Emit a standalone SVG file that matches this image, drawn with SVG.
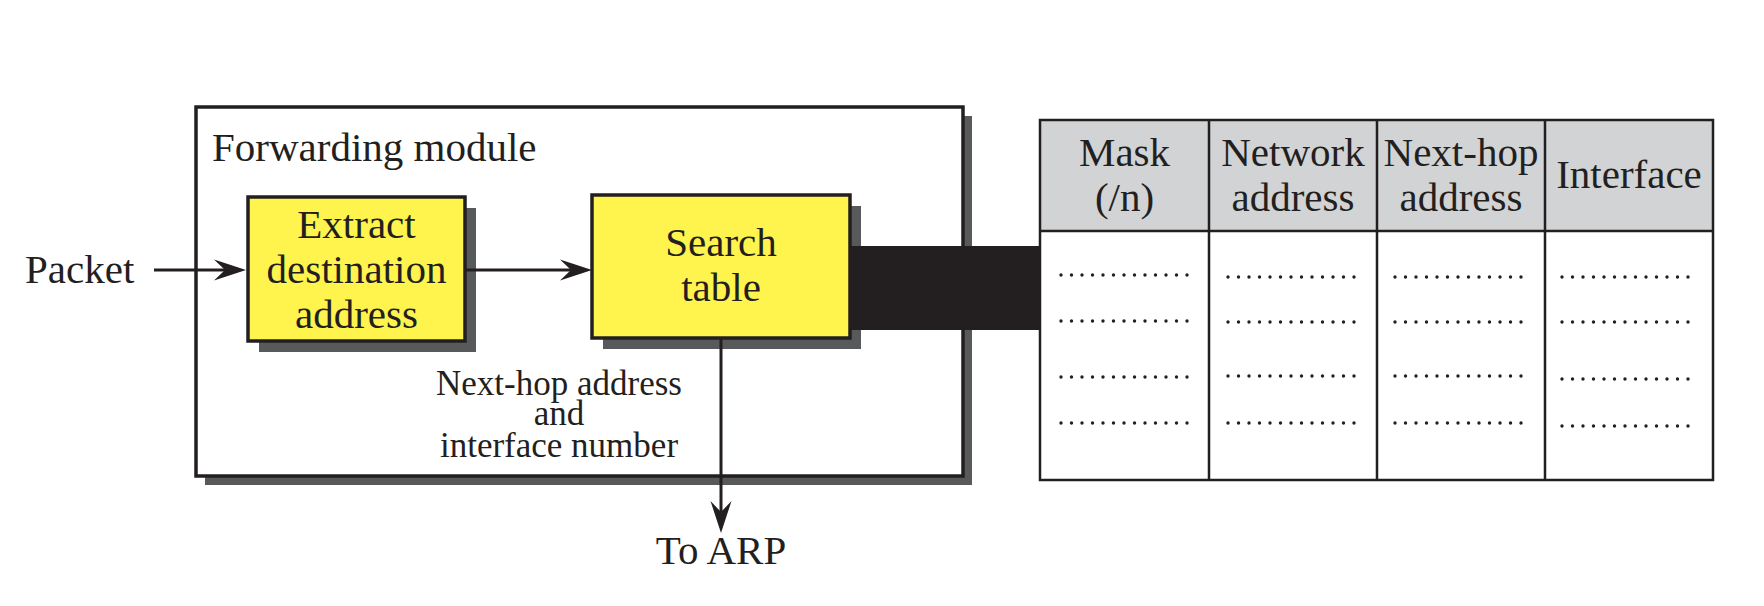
<svg xmlns="http://www.w3.org/2000/svg" width="1764" height="606" viewBox="0 0 1764 606">
<defs>
<style>
.t{font-family:"Liberation Serif","Times New Roman",serif;font-size:41px;fill:#231f20}
.s{font-family:"Liberation Serif","Times New Roman",serif;font-size:35px;fill:#231f20}
.m{text-anchor:middle}
.box{stroke:#231f20;stroke-width:3.5}
.yel{fill:#fff34d;stroke:#231f20;stroke-width:3.5}
.sh{fill:#58595b}
.conn{stroke:#231f20;stroke-width:3;fill:none}
.grid{stroke:#231f20;stroke-width:2.5;fill:none}
.dots{stroke:#231f20;stroke-width:3.4;stroke-linecap:round;stroke-dasharray:0 10.5}
</style>
<marker id="ah" viewBox="-13 -11 34 22" markerWidth="34" markerHeight="22" refX="0" refY="0" orient="auto" markerUnits="userSpaceOnUse">
<path d="M20,0 L-12,-10.5 L-1,0 L-12,10.5 Z" fill="#231f20"/>
</marker>
</defs>
<rect width="1764" height="606" fill="#ffffff"/>

<g id="forwarding-module">
<rect class="sh" x="205" y="116" width="767" height="369"/>
<rect class="box" x="196" y="107" width="767" height="369" fill="#ffffff"/>
<text class="t" x="212" y="161">Forwarding module</text>
</g>

<g id="extract">
<rect class="sh" x="259" y="208" width="217" height="144"/>
<rect class="yel" x="248" y="197" width="217" height="144"/>
<text class="t m" x="356.5" y="238">Extract</text>
<text class="t m" x="356.5" y="283">destination</text>
<text class="t m" x="356.5" y="328">address</text>
</g>

<g id="search-table">
<rect class="sh" x="603" y="206" width="258" height="143"/>
<rect class="yel" x="592" y="195" width="258" height="143"/>
<text class="t m" x="721" y="256">Search</text>
<text class="t m" x="721" y="301">table</text>
</g>

<g id="packet">
<text class="t" x="25" y="283">Packet</text>
</g>

<g id="to-arp">
<text class="t m" x="721" y="564">To ARP</text>
</g>

<g id="next-hop-label">
<text class="s m" x="559" y="395">Next-hop address</text>
<text class="s m" x="559" y="425">and</text>
<text class="s m" x="559" y="457">interface number</text>
</g>

<g id="connectors">
<line class="conn" x1="154" y1="270" x2="226" y2="270" marker-end="url(#ah)"/>
<line class="conn" x1="465" y1="270" x2="572" y2="270" marker-end="url(#ah)"/>
<line class="conn" x1="721" y1="338" x2="721" y2="513" marker-end="url(#ah)"/>
<rect id="table-link" x="850" y="246" width="190" height="84" fill="#231f20"/>
</g>

<g id="routing-table">
<rect x="1040" y="120" width="673" height="111" fill="#d1d3d4"/>
<rect class="grid" x="1040" y="120" width="673" height="360"/>
<line class="grid" x1="1040" y1="231" x2="1713" y2="231"/>
<line class="grid" x1="1209" y1="120" x2="1209" y2="480"/>
<line class="grid" x1="1377" y1="120" x2="1377" y2="480"/>
<line class="grid" x1="1545" y1="120" x2="1545" y2="480"/>
<text class="t m" x="1124.5" y="166">Mask</text>
<text class="t m" x="1124.5" y="211">(/n)</text>
<text class="t m" x="1293" y="166">Network</text>
<text class="t m" x="1293" y="211">address</text>
<text class="t m" x="1461" y="166">Next-hop</text>
<text class="t m" x="1461" y="211">address</text>
<text class="t m" x="1629" y="188">Interface</text>
<line class="dots" x1="1061" y1="275" x2="1187.5" y2="275"/>
<line class="dots" x1="1061" y1="321" x2="1187.5" y2="321"/>
<line class="dots" x1="1061" y1="377" x2="1187.5" y2="377"/>
<line class="dots" x1="1061" y1="423" x2="1187.5" y2="423"/>
<line class="dots" x1="1228" y1="277" x2="1354.5" y2="277"/>
<line class="dots" x1="1228" y1="322" x2="1354.5" y2="322"/>
<line class="dots" x1="1228" y1="376" x2="1354.5" y2="376"/>
<line class="dots" x1="1228" y1="423" x2="1354.5" y2="423"/>
<line class="dots" x1="1395" y1="277" x2="1521.5" y2="277"/>
<line class="dots" x1="1395" y1="322" x2="1521.5" y2="322"/>
<line class="dots" x1="1395" y1="376" x2="1521.5" y2="376"/>
<line class="dots" x1="1395" y1="423" x2="1521.5" y2="423"/>
<line class="dots" x1="1562" y1="277" x2="1688.5" y2="277"/>
<line class="dots" x1="1562" y1="322" x2="1688.5" y2="322"/>
<line class="dots" x1="1562" y1="379" x2="1688.5" y2="379"/>
<line class="dots" x1="1562" y1="426" x2="1688.5" y2="426"/>
</g>
</svg>
